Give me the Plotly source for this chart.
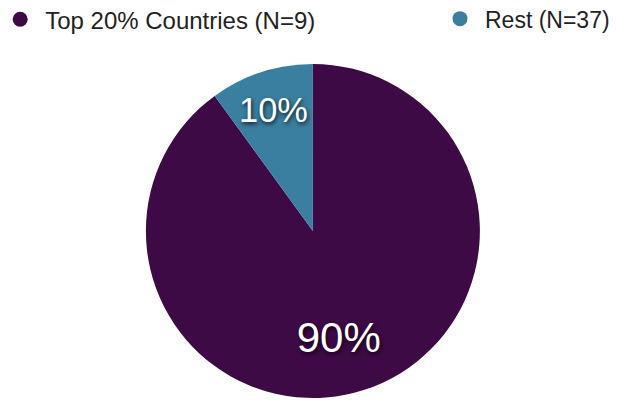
import plotly.graph_objects as go

labels = ["Top 20% Countries (N=9)", "Rest (N=37)"]
values = [90, 10]
colors = ["#3d0a45", "#3a7fa0"]

fig = go.Figure()
fig.add_trace(go.Pie(
    labels=labels, values=values, sort=False, direction="clockwise", rotation=0,
    marker=dict(colors=colors, line=dict(width=0)),
    texttemplate=["&nbsp;<br>%{percent:.0%}", "%{percent:.0%}"],
    textposition="inside", insidetextorientation="horizontal",
    textfont=dict(family="Liberation Sans, Arial", size=42, color="white",
                  shadow="1px 2px 4px rgba(0,0,0,0.8)"),
    showlegend=False, hoverinfo="label+percent",
    domain=dict(x=[0, 0.975], y=[0, 1]),
))
legends = ["legend", "legend2"]
for lab, col, lg in zip(labels, colors, legends):
    fig.add_trace(go.Scatter(x=[None], y=[None], mode="markers", name=lab,
                             marker=dict(color=col, size=15, symbol="circle"),
                             showlegend=True, legend=lg))

legfont = dict(family="Liberation Sans, Arial", size=24, color="#222")
legfont2 = dict(family="Liberation Sans, Arial", size=23, color="#222")
fig.update_layout(
    width=617, height=400,
    margin=dict(l=8, r=0, t=56, b=10, autoexpand=False),
    paper_bgcolor="white", plot_bgcolor="white",
    xaxis=dict(visible=False), yaxis=dict(visible=False),
    legend=dict(x=-0.0342, xref="paper", y=1.2, yref="paper", xanchor="left", yanchor="top",
                font=legfont, bgcolor="rgba(0,0,0,0)", itemwidth=40),
    legend2=dict(x=0.688, xref="paper", y=1.2, yref="paper", xanchor="left", yanchor="top",
                 font=legfont2, bgcolor="rgba(0,0,0,0)", itemwidth=40),
)
fig.write_html("out.html")
